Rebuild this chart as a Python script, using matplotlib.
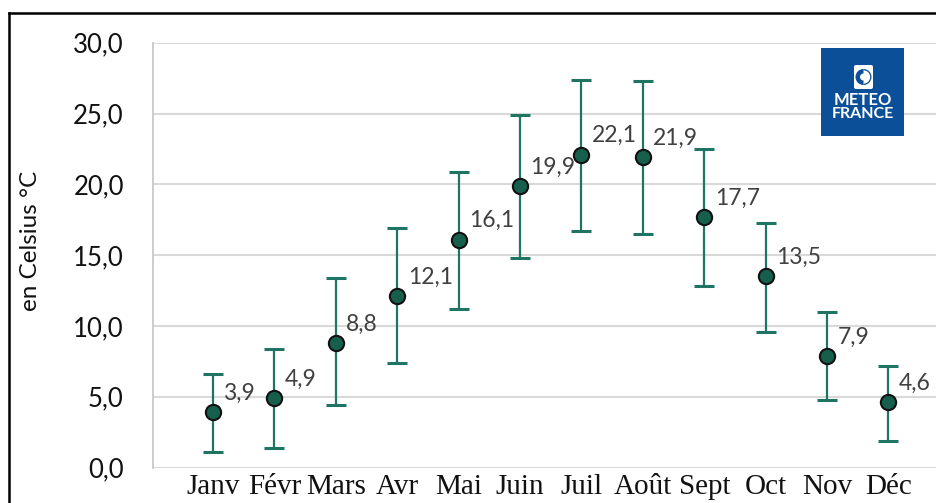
import matplotlib.pyplot as plt
from matplotlib.patches import Rectangle, FancyBboxPatch, Wedge
from matplotlib.lines import Line2D
from matplotlib.transforms import Affine2D

# monthly normals (mean, min, max) in degrees Celsius
mois = ['Janv', 'Févr', 'Mars', 'Avr', 'Mai', 'Juin',
        'Juil', 'Août', 'Sept', 'Oct', 'Nov', 'Déc']
moyenne = [3.9, 4.9, 8.8, 12.1, 16.1, 19.9, 22.1, 21.9, 17.7, 13.5, 7.9, 4.6]
tmin = [1.1, 1.4, 4.4, 7.4, 11.2, 14.8, 16.7, 16.5, 12.8, 9.6, 4.8, 1.9]
tmax = [6.6, 8.4, 13.4, 16.9, 20.9, 24.9, 27.4, 27.3, 22.5, 17.3, 11.0, 7.2]
yticks = [0, 5, 10, 15, 20, 25, 30]

W, H = 937, 503
fig = plt.figure(figsize=(W / 100, H / 100), dpi=100)

ax = fig.add_axes([153 / W, 1 - 467.5 / H, 1 - 153 / W, (467.5 - 42.7) / H])

x = list(range(len(mois)))
err_bas = [m - lo for m, lo in zip(moyenne, tmin)]
err_haut = [hi - m for m, hi in zip(moyenne, tmax)]

ax.errorbar(x, moyenne, yerr=[err_bas, err_haut], fmt='none',
            ecolor='#1e7563', elinewidth=1.6, capsize=7, capthick=2.2, zorder=3)
ax.plot(x, moyenne, 'o', ms=11, mfc='#155f4c', mec='#111111', mew=1.5,
        zorder=4, clip_on=False)

for xi, m in zip(x, moyenne):
    ax.annotate(f'{m:.1f}'.replace('.', ','), (xi, m), xytext=(7.5, 13.5),
                textcoords='offset points', ha='left', va='center',
                fontsize=16.5, color='#404040', family='Lato',
                annotation_clip=False, zorder=5)

ax.set_xlim(-0.977, 11.79)
ax.set_ylim(0, 30)
ax.set_yticks(yticks)
ax.set_yticklabels([f'{v:.1f}'.replace('.', ',') for v in yticks],
                   fontsize=18.5, family='Lato', color='#111111')
ax.set_xticks(x)
ax.set_xticklabels(mois, fontsize=21, family='Liberation Serif', color='#111111')
ax.tick_params(axis='both', length=0)
ax.tick_params(axis='y', pad=21)
ax.tick_params(axis='x', pad=5)

ax.grid(axis='y', color='#d9d9d9', linewidth=1.5, zorder=0)
ax.set_axisbelow(True)
for s in ['top', 'right', 'bottom']:
    ax.spines[s].set_visible(False)
ax.spines['left'].set_color('#c8c8c8')
ax.spines['left'].set_linewidth(1.3)

fig.text(31 / W, 1 - 241 / H, 'en Celsius °C', rotation=90, ha='center',
         va='center', fontsize=17.5, family='Lato', color='#111111')

# outer frame (only left and top edges are inside the image)
fig.add_artist(Line2D([9.5 / W, 9.5 / W], [-0.1, 1 - 12.5 / H],
                      transform=fig.transFigure, color='black', lw=1.8))
fig.add_artist(Line2D([9.5 / W, 1.1], [1 - 12.5 / H, 1 - 12.5 / H],
                      transform=fig.transFigure, color='black', lw=1.8))

# logo, placed in pixel units measured from the top-left corner
px = Affine2D().scale(1, -1).translate(0, H)
bleu = '#0c4f99'
fig.add_artist(Rectangle((821, 48), 83, 88, transform=px,
                         facecolor=bleu, edgecolor='none', zorder=10))
fig.add_artist(FancyBboxPatch((854, 65), 19, 24, boxstyle='round,pad=0,rounding_size=2',
                              transform=px, facecolor='white',
                              edgecolor='none', zorder=11))
cx, cy = 863.5, 77
fig.add_artist(Wedge((cx, cy), 8, 90, 270, width=4.5, transform=px,
                     facecolor=bleu, edgecolor='none', zorder=12))
fig.add_artist(Wedge((cx, cy), 8, 270, 90, width=1.3, transform=px,
                     facecolor=bleu, edgecolor='none', zorder=12))
fig.text(862.5, 100, 'METEO', transform=px, ha='center', va='center',
         fontsize=12, fontweight='bold', family='Lato', color='white', zorder=12)
fig.text(862.5, 114, 'FRANCE', transform=px, ha='center', va='center',
         fontsize=11.5, fontweight='bold', family='Lato', color='white', zorder=12)

fig.savefig('out.png', dpi=100)
